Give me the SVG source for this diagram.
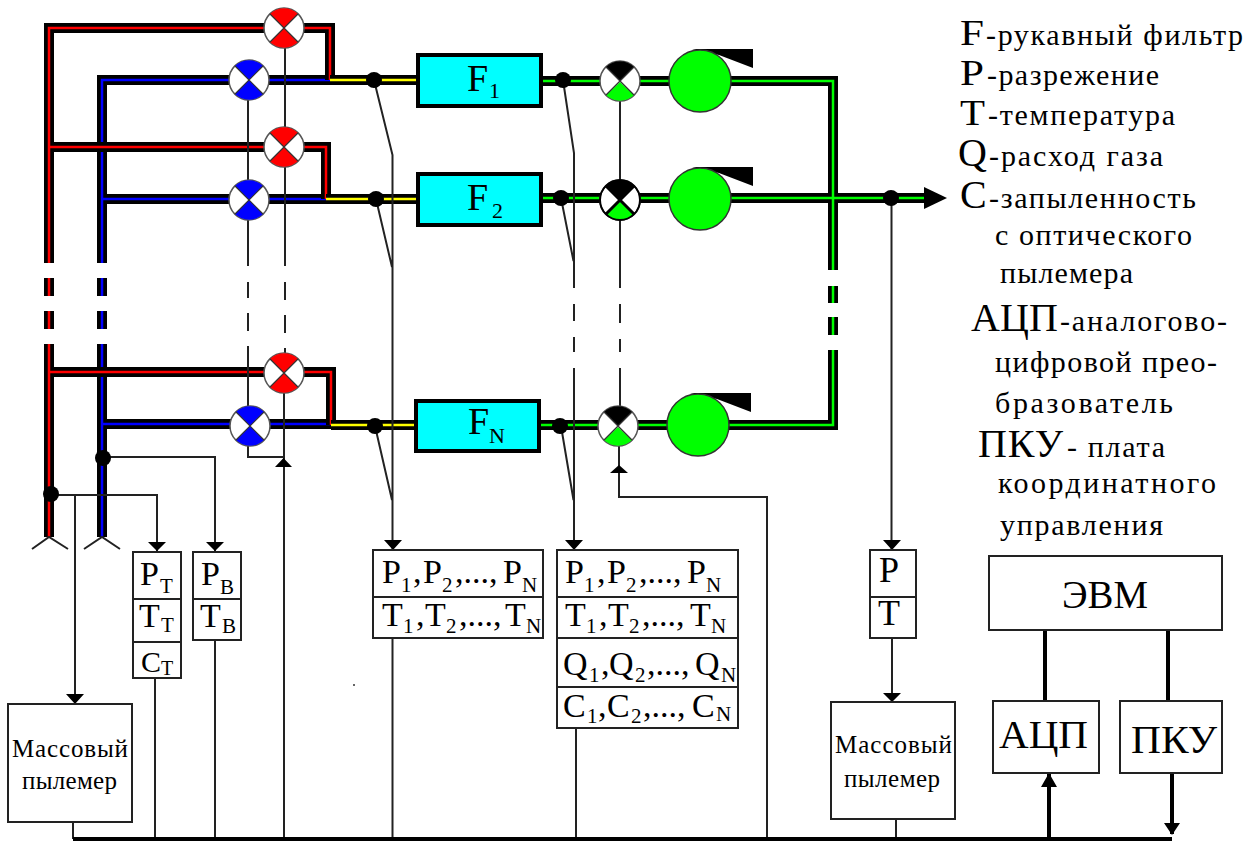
<svg xmlns="http://www.w3.org/2000/svg" width="1254" height="841" viewBox="0 0 1254 841">
<style>
text{font-family:"Liberation Serif","Times New Roman",serif;fill:#000}
.b{fill:none;stroke:#000;stroke-width:10;stroke-linejoin:miter}
.in{fill:none;stroke-width:2.5}
.red{stroke:#f00}.blue{stroke:#00f}.yel{stroke:#ff0}.grn{stroke:#0f0}
.l{fill:none;stroke:#222;stroke-width:2}
.t{fill:none;stroke:#000;stroke-width:4}
.box{fill:#fff;stroke:#222;stroke-width:2}
.filter{fill:#0ff;stroke:#000;stroke-width:4}
.v{fill:#fff;stroke:#555;stroke-width:1.5}
.x{stroke:#333;stroke-width:1.2}
.xk{stroke:#000;stroke-width:3}
.fan{fill:#0f0;stroke:#333;stroke-width:1.5}
.m{font-size:38px}
.c{font-size:34px}
.u{font-size:21px}
.big{font-size:40px}
.big2{font-size:36px}
.leg{font-size:30px}
.mas{font-size:25px}
.e{font-size:40px}
</style>
<defs>
<g id="vx"><circle r="20" class="v"/><path d="M-14-14A20 20 0 0 1 14-14L0 0Z"/><path d="M-14 14A20 20 0 0 0 14 14L0 0Z"/><path class="x" d="M-14-14L14 14M14-14L-14 14"/></g>
<g id="vg"><circle r="20" class="v"/><path d="M-14-14A20 20 0 0 1 14-14L0 0Z" fill="#000"/><path d="M-14 14A20 20 0 0 0 14 14L0 1Z" fill="#0f0"/><path class="x" d="M-14-14L14 14M14-14L-14 14"/></g>
<g id="fan"><path d="M-8-32H53V-13L19-26Z" fill="#000"/><circle r="31" class="fan"/></g>
</defs>
<g id="connectors">
<g id="pipes">
<path class="b" d="M102 263V80H331M102 278V296M102 311V329M102 344V537M102 199H326M102 424H331"/>
<path class="in blue" d="M102 263V80H331M102 278V296M102 311V329M102 344V537M102 199H326M102 424H331"/>
<path class="b" d="M49 263V28H330V80M49 278V296M49 311V329M49 344V537M49 147H326V199M49 372H331V425"/>
<path class="in red" d="M49 263V28H330V80M49 278V296M49 311V329M49 344V537M49 147H326V199M49 372H331V425"/>
<path class="b" d="M330 80H418M326 199H418M331 425H416"/>
<path class="in yel" d="M330 80H418M326 199H418M331 425H416"/>
<path class="b" d="M541 81H833V270M541 198H928M539 425H833V350M833 286V303M833 317V335"/>
<path class="in grn" d="M541 81H833V270M541 198H928M539 425H833V350M833 286V303M833 317V335"/>
<path d="M924 187L947 198L924 209Z"/>
</g>
<path class="l" d="M285 48V128M285 166V266M285 282V300M285 315V333M285 348V354M284 392V839"/>
<path class="l" d="M248 100V180M248 219V266M248 282V298M248 313V331M248 346V406M248 444V457H284"/>
<path class="l" d="M620 100V180M620 218V288M620 304V323M620 339V352M620 368V406"/>
<path class="l" d="M374 80L392.500 155V549M376 199L392 267M375 426L392 500"/>
<path class="l" d="M563 80L574 153V288M574 304V321M574 337V352M574 368V549M561 198L573.500 261M561 426L573.500 500"/>
<path class="l" d="M32 549L49 537L68 549M84 549L102 537L120 549"/>
<path class="l" d="M51 495H157V551M75 495V703"/>
<path class="l" d="M103 457H215V551"/>
<path class="l" d="M392.500 638V839M576 728V839M155 678V839M215 640V839M73 822V839M767 839V497H619V445"/>
<path class="l" d="M891.500 198V549M892 638V701M896 819V839"/>
<path class="t" d="M73 839H1172M1045 630V701M1168 630V701M1049 839V774M1172 773V834"/>
<g fill="#000">
<path d="M148 542H166L157 551ZM206 542H224L215 551ZM384 540H402L393 550ZM565 540H583L574 550ZM883 540H901L892 550ZM66 694H84L75 704ZM883 693H901L892 702ZM1164 823H1180L1172 835Z"/>
<path d="M275 467H292L283.500 458ZM610 473H628L619 465ZM1041 787H1057L1049 773Z"/>
</g>
<g fill="#000"><circle cx="374" cy="80" r="8"/><circle cx="376" cy="199" r="8"/><circle cx="375" cy="426" r="8"/><circle cx="563" cy="80" r="8"/><circle cx="561" cy="198" r="8"/><circle cx="560" cy="426" r="8"/><circle cx="891" cy="198" r="8"/><circle cx="103" cy="458" r="8"/><circle cx="51" cy="494" r="8"/></g>
</g>
<g id="valves">
<use href="#vx" x="284" y="28" fill="#f00"/><use href="#vx" x="284" y="147" fill="#f00"/><use href="#vx" x="284" y="373" fill="#f00"/>
<use href="#vx" x="249" y="80" fill="#00f"/><use href="#vx" x="249" y="200" fill="#00f"/><use href="#vx" x="250" y="426" fill="#00f"/>
<use href="#vg" x="620" y="81"/>
<g transform="translate(620 200)"><use href="#vg"/><path class="xk" d="M-14-14L14 14M14-14L-14 14"/><circle r="20" fill="none" stroke="#000" stroke-width="2"/></g>
<use href="#vg" x="618" y="426"/>
</g>
<g id="fans">
<use href="#fan" x="700" y="81"/><use href="#fan" x="700" y="199"/><use href="#fan" x="698" y="425"/>
</g>
<g id="filter1"><rect class="filter" x="418" y="55" width="123" height="51"/><text class="m"><tspan x="467" y="91">F</tspan><tspan x="489" y="98" font-size="22">1</tspan></text></g>
<g id="filter2"><rect class="filter" x="418" y="174" width="123" height="51"/><text class="m"><tspan x="467" y="210">F</tspan><tspan x="492" y="218" font-size="22">2</tspan></text></g>
<g id="filterN"><rect class="filter" x="416" y="401" width="123" height="50"/><text class="m"><tspan x="468" y="434">F</tspan><tspan x="489" y="443" font-size="22">N</tspan></text></g>
<g id="box-tt"><rect class="box" x="133" y="552" width="48" height="126"/><path class="l" d="M133 599H181M133 642H181"/>
<text class="c"><tspan x="140" y="585">P</tspan><tspan class="u" x="160" y="593">T</tspan></text>
<text class="c"><tspan x="139" y="627">T</tspan><tspan class="u" x="161" y="632">T</tspan></text>
<text font-size="30"><tspan x="141" y="672">C</tspan><tspan x="161" y="675" font-size="20">T</tspan></text></g>
<g id="box-tb"><rect class="box" x="193" y="552" width="48" height="88"/><path class="l" d="M193 599H241"/>
<text class="c"><tspan x="201" y="585">P</tspan><tspan class="u" x="220" y="594">B</tspan></text>
<text class="c"><tspan x="200" y="627">T</tspan><tspan class="u" x="222" y="633">B</tspan></text></g>
<g id="box-f-in"><rect class="box" x="373" y="550" width="170" height="88"/><path class="l" d="M373 597H543"/>
<text class="c"><tspan x="382" y="583">P</tspan><tspan class="u" x="401" y="592">1</tspan><tspan x="413" y="583">,</tspan><tspan x="423" y="583">P</tspan><tspan class="u" x="442" y="592">2</tspan><tspan x="455" y="583">,...,</tspan><tspan x="503" y="583">P</tspan><tspan class="u" x="522" y="592">N</tspan></text>
<text class="c"><tspan x="382" y="626">T</tspan><tspan class="u" x="403" y="633">1</tspan><tspan x="416" y="626">,</tspan><tspan x="425" y="626">T</tspan><tspan class="u" x="446" y="633">2</tspan><tspan x="459" y="626">,...,</tspan><tspan x="505" y="626">T</tspan><tspan class="u" x="526" y="633">N</tspan></text></g>
<g id="box-f-out"><rect class="box" x="557" y="550" width="181" height="178"/><path class="l" d="M557 597H738M557 638H738M557 687H738"/>
<text class="c"><tspan x="565" y="583">P</tspan><tspan class="u" x="584" y="592">1</tspan><tspan x="597" y="583">,</tspan><tspan x="607" y="583">P</tspan><tspan class="u" x="626" y="592">2</tspan><tspan x="639" y="583">,...,</tspan><tspan x="687" y="583">P</tspan><tspan class="u" x="706" y="592">N</tspan></text>
<text class="c"><tspan x="565" y="626">T</tspan><tspan class="u" x="586" y="633">1</tspan><tspan x="599" y="626">,</tspan><tspan x="608" y="626">T</tspan><tspan class="u" x="629" y="633">2</tspan><tspan x="642" y="626">,...,</tspan><tspan x="690" y="626">T</tspan><tspan class="u" x="711" y="633">N</tspan></text>
<text class="c"><tspan x="563" y="675">Q</tspan><tspan class="u" x="589" y="682">1</tspan><tspan x="601" y="675">,</tspan><tspan x="609" y="675">Q</tspan><tspan class="u" x="635" y="682">2</tspan><tspan x="647" y="675">,...,</tspan><tspan x="695" y="675">Q</tspan><tspan class="u" x="721" y="682">N</tspan></text>
<text class="c"><tspan x="563" y="717">C</tspan><tspan class="u" x="587" y="723">1</tspan><tspan x="598" y="717">,</tspan><tspan x="607" y="717">C</tspan><tspan class="u" x="631" y="723">2</tspan><tspan x="643" y="717">,...,</tspan><tspan x="692" y="717">C</tspan><tspan class="u" x="716" y="721">N</tspan></text></g>
<g id="box-pt"><rect class="box" x="870" y="550" width="46" height="88"/><path class="l" d="M870 597H916"/><text x="889" y="582" font-size="36" text-anchor="middle">P</text><text x="889" y="625" font-size="36" text-anchor="middle">T</text></g>
<g id="mass1"><rect class="box" x="8" y="704" width="124" height="118"/><text x="12" y="757" class="mas" textLength="116" lengthAdjust="spacing">Массовый</text><text x="22" y="789" class="mas" textLength="95" lengthAdjust="spacing">пылемер</text></g>
<g id="mass2"><rect class="box" x="831" y="702" width="124" height="117"/><text x="835" y="753" class="mas" textLength="117" lengthAdjust="spacing">Массовый</text><text x="844" y="787" class="mas" textLength="96" lengthAdjust="spacing">пылемер</text></g>
<g id="evm"><rect class="box" x="989" y="556" width="233" height="74"/><text x="1062" y="608" class="e" textLength="86" lengthAdjust="spacingAndGlyphs">ЭВМ</text></g>
<g id="adc"><rect class="box" x="993" y="701" width="106" height="72"/><text x="999" y="748" class="e" textLength="89" lengthAdjust="spacingAndGlyphs">АЦП</text></g>
<g id="pku"><rect class="box" x="1120" y="701" width="102" height="72"/><text x="1131" y="753" class="e" textLength="86" lengthAdjust="spacingAndGlyphs">ПКУ</text></g>
<circle cx="354" cy="685" r="1" fill="#333"/>
<g id="legend">
<text x="960" y="45" class="big2" textLength="24" lengthAdjust="spacingAndGlyphs">F</text><text x="986" y="45" class="leg" textLength="257" lengthAdjust="spacing">-рукавный фильтр</text>
<text x="960" y="85" class="big2" textLength="24" lengthAdjust="spacingAndGlyphs">P</text><text x="987" y="85" class="leg" textLength="172" lengthAdjust="spacing">-разрежение</text>
<text x="960" y="125" class="big2" textLength="25" lengthAdjust="spacingAndGlyphs">T</text><text x="988" y="125" class="leg" textLength="187" lengthAdjust="spacing">-температура</text>
<text x="958" y="166" class="big">Q</text><text x="989" y="166" class="leg" textLength="174" lengthAdjust="spacing">-расход газа</text>
<text x="960" y="208" class="big">C</text><text x="989" y="208" class="leg" textLength="207" lengthAdjust="spacing">-запыленность</text>
<text x="995" y="245" class="leg" textLength="197" lengthAdjust="spacing">с оптического</text>
<text x="1000" y="283" class="leg" textLength="133" lengthAdjust="spacing">пылемера</text>
<text x="971" y="331" class="big" textLength="87" lengthAdjust="spacing">АЦП</text><text x="1060" y="331" class="leg" textLength="167" lengthAdjust="spacing">-аналогово-</text>
<text x="995" y="372" class="leg" textLength="222" lengthAdjust="spacing">цифровой прео-</text>
<text x="995" y="413" class="leg" textLength="178" lengthAdjust="spacing">бразователь</text>
<text x="978" y="457" class="big" textLength="85" lengthAdjust="spacing">ПКУ</text><text x="1067" y="457" class="leg" textLength="98" lengthAdjust="spacing">- плата</text>
<text x="998" y="493" class="leg" textLength="218" lengthAdjust="spacing">координатного</text>
<text x="1000" y="535" class="leg" textLength="163" lengthAdjust="spacing">управления</text>
</g>
</svg>
